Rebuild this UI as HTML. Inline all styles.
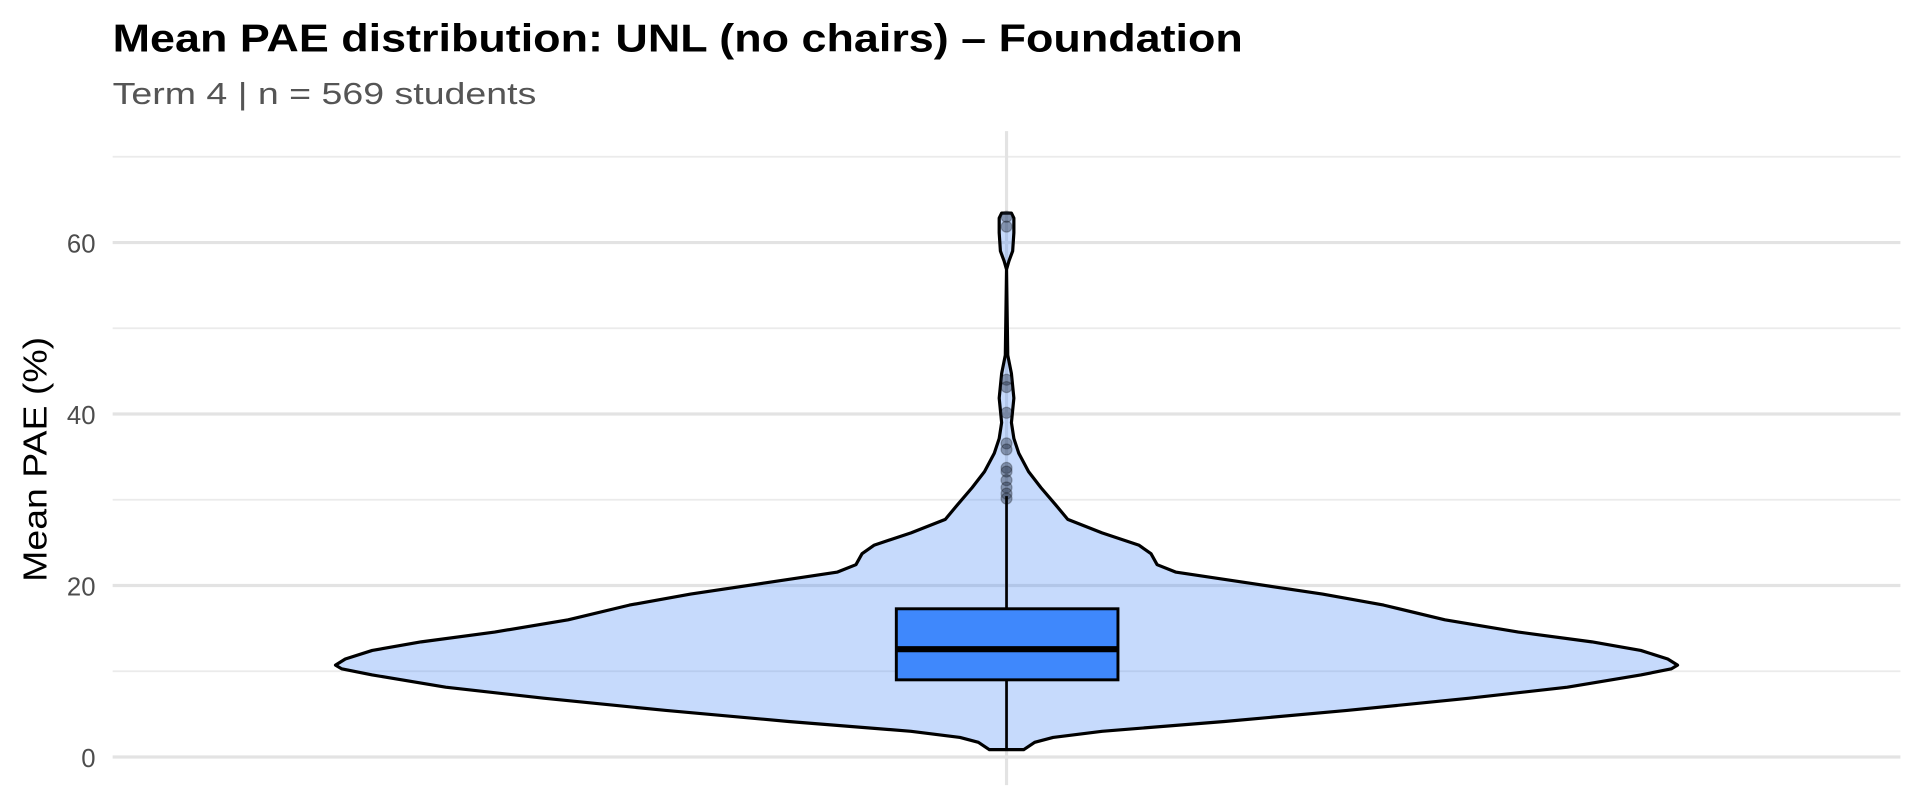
<!DOCTYPE html>
<html><head><meta charset="utf-8"><style>html,body{margin:0;padding:0;background:#fff}svg{display:block}</style></head>
<body>
<svg width="1920" height="806" viewBox="0 0 1568 658" preserveAspectRatio="none" xmlns="http://www.w3.org/2000/svg" font-family="Liberation Sans, Arial, sans-serif">
<rect width="1568" height="658" fill="#fff"/>
<g stroke="#ebebeb" stroke-width="1.4">
<line x1="92" x2="1552" y1="128" y2="128"/><line x1="92" x2="1552" y1="268" y2="268"/>
<line x1="92" x2="1552" y1="408" y2="408"/><line x1="92" x2="1552" y1="548" y2="548"/>
</g>
<g stroke="#e3e3e3" stroke-width="2.6">
<line x1="92" x2="1552" y1="198" y2="198"/><line x1="92" x2="1552" y1="338" y2="338"/>
<line x1="92" x2="1552" y1="478" y2="478"/><line x1="92" x2="1552" y1="618" y2="618"/>
<line x1="822" x2="822" y1="107" y2="641"/>
</g>
<text x="92" y="42" font-size="32" font-weight="bold" fill="#000" textLength="923" lengthAdjust="spacingAndGlyphs">Mean PAE distribution: UNL (no chairs) – Foundation</text>
<text x="92" y="85" font-size="25" fill="#555" textLength="346" lengthAdjust="spacingAndGlyphs">Term 4 | n = 569 students</text>
<g font-size="21" fill="#4d4d4d" text-anchor="end">
<text x="78" y="206">60</text><text x="78" y="346">40</text><text x="78" y="486">20</text><text x="78" y="626">0</text>
</g>
<text transform="translate(38,375) rotate(-90)" font-size="27" fill="#000" text-anchor="middle" textLength="200" lengthAdjust="spacingAndGlyphs">Mean PAE (%)</text>
<path fill="rgba(66,133,244,0.3)" stroke="#000" stroke-width="2.6" stroke-linejoin="round" d="M808,612 L836,612 L845,606 L860,602 L900,597 L1000,589 L1100,580 L1200,570 L1280,561 L1340,551 L1365,546 L1370,543 L1362,538 L1340,531 L1300,524 L1240,516 L1180,506 L1130,494 L1080,485 L1020,476 L960,467 L945,461 L940,452 L930,445 L900,435 L872,424 L862,412 L850,398 L840,385 L832,370 L828,358 L826,345 L828,325 L826,305 L823,290 L822,220 L824,213 L827,205 L828,190 L828,178 L826,174 L818,174 L816,178 L816,190 L817,205 L820,213 L822,220 L821,290 L818,305 L816,325 L818,345 L816,358 L812,370 L804,385 L794,398 L782,412 L772,424 L744,435 L714,445 L704,452 L699,461 L684,467 L624,476 L564,485 L514,494 L464,506 L404,516 L344,524 L304,531 L282,538 L274,543 L279,546 L304,551 L364,561 L444,570 L544,580 L644,589 L744,597 L784,602 L799,606 Z"/>
<g fill="rgba(30,40,60,0.4)" stroke="rgba(0,0,0,0.25)">
<circle cx="822" cy="177" r="4.5"/><circle cx="822" cy="185" r="4.5"/><circle cx="822" cy="310" r="4.5"/><circle cx="822" cy="316" r="4.5"/>
<circle cx="822" cy="337" r="4.5"/><circle cx="822" cy="362" r="4.5"/><circle cx="822" cy="367" r="4.5"/><circle cx="822" cy="382" r="4.5"/>
<circle cx="822" cy="385" r="4.5"/><circle cx="822" cy="392" r="4.5"/><circle cx="822" cy="398" r="4.5"/><circle cx="822" cy="403" r="4.5"/><circle cx="822" cy="407" r="4.5"/>
</g>
<line x1="822" x2="822" y1="405" y2="612" stroke="#000" stroke-width="2.2"/>
<rect x="732" y="497" width="181" height="58" fill="#3f88fc" stroke="#000" stroke-width="2.4"/>
<line x1="732" x2="913" y1="530" y2="530" stroke="#000" stroke-width="5"/>
</svg>
</body></html>
